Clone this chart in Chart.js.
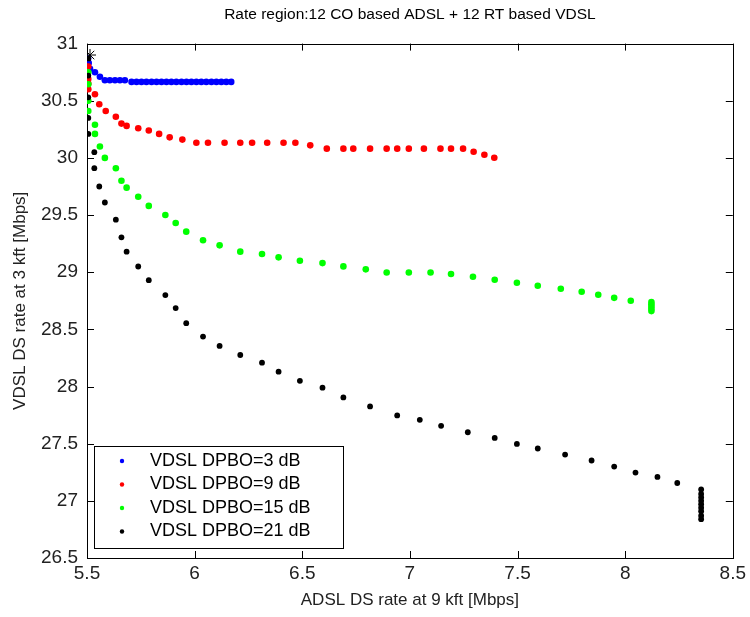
<!DOCTYPE html>
<html>
<head>
<meta charset="utf-8">
<title>Rate region</title>
<script src="https://cdn.jsdelivr.net/npm/chart.js@4.4.1/dist/chart.umd.min.js"></script>
<style>
    html, body { margin: 0; padding: 0; background: #fff; }
    #wrap { width: 750px; height: 617px; }
</style>
</head>
<body>
<div id="wrap"><canvas id="rateChart" width="750" height="617"></canvas></div>
<script>
// Series
const seriesLabels = ['VDSL DPBO=3 dB', 'VDSL DPBO=9 dB', 'VDSL DPBO=15 dB', 'VDSL DPBO=21 dB'];

const dpbo3X = [5.505, 5.508, 5.514, 5.537, 5.56, 5.583, 5.606, 5.63, 5.653, 5.676,
    5.707, 5.730, 5.753, 5.776, 5.800, 5.823, 5.846, 5.869, 5.892, 5.915, 5.939,
    5.962, 5.985, 6.008, 6.031, 6.054, 6.078, 6.101, 6.124, 6.147, 6.170];
const dpbo3Y = [30.87, 30.83, 30.78, 30.75, 30.71, 30.68, 30.68, 30.68, 30.68, 30.68,
    30.665, 30.665, 30.665, 30.665, 30.665, 30.665, 30.665, 30.665, 30.665, 30.665, 30.665,
    30.665, 30.665, 30.665, 30.665, 30.665, 30.665, 30.665, 30.665, 30.665, 30.665];

const dpbo9X = [5.506, 5.506, 5.506, 5.506, 5.537, 5.557, 5.587, 5.634, 5.66, 5.684,
    5.738, 5.787, 5.835, 5.884, 5.943, 6.008, 6.062, 6.139, 6.212, 6.267, 6.337, 6.413,
    6.468, 6.537, 6.614, 6.691, 6.737, 6.815, 6.892, 6.941, 6.995, 7.065, 7.142, 7.191,
    7.247, 7.296, 7.346, 7.392];
const dpbo9Y = [30.80, 30.69, 30.65, 30.60, 30.557, 30.47, 30.41, 30.36, 30.30, 30.28,
    30.26, 30.24, 30.21, 30.18, 30.16, 30.133, 30.133, 30.133, 30.133, 30.133, 30.133, 30.133,
    30.133, 30.11, 30.081, 30.081, 30.081, 30.081, 30.081, 30.081, 30.081, 30.081, 30.081, 30.081,
    30.081, 30.054, 30.028, 30.002];

const dpbo15X = [5.506, 5.506, 5.506, 5.506, 5.537, 5.537, 5.56, 5.583, 5.634, 5.66,
    5.684, 5.738, 5.787, 5.864, 5.912, 5.961, 6.039, 6.116, 6.212, 6.313, 6.39, 6.489,
    6.594, 6.691, 6.795, 6.892, 6.995, 7.096, 7.191, 7.293, 7.394, 7.497, 7.594, 7.701,
    7.798, 7.875, 7.949, 8.026, 8.122, 8.122, 8.122, 8.122, 8.122];
const dpbo15Y = [30.75, 30.645, 30.5, 30.41, 30.29, 30.21, 30.10, 30.0, 29.91, 29.80,
    29.74, 29.66, 29.58, 29.50, 29.43, 29.355, 29.28, 29.235, 29.18, 29.16, 29.13, 29.10,
    29.08, 29.051, 29.025, 28.998, 28.998, 28.998, 28.984, 28.961, 28.934, 28.908, 28.882, 28.855,
    28.829, 28.803, 28.776, 28.75, 28.74, 28.72, 28.70, 28.68, 28.66];

const dpbo21X = [5.506, 5.506, 5.506, 5.506, 5.506, 5.534, 5.534, 5.557, 5.583, 5.634,
    5.66, 5.684, 5.738, 5.787, 5.864, 5.912, 5.961, 6.039, 6.116, 6.212, 6.313, 6.39,
    6.489, 6.594, 6.691, 6.815, 6.941, 7.046, 7.145, 7.269, 7.394, 7.497, 7.594, 7.721,
    7.844, 7.949, 8.048, 8.15, 8.242, 8.353, 8.353, 8.353, 8.353, 8.353, 8.353, 8.353,
    8.353, 8.353];
const dpbo21Y = [30.87, 30.72, 30.53, 30.35, 30.21, 30.05, 29.91, 29.75, 29.61, 29.46,
    29.305, 29.18, 29.05, 28.93, 28.80, 28.686, 28.554, 28.437, 28.355, 28.276, 28.209, 28.13,
    28.05, 27.99, 27.905, 27.826, 27.747, 27.709, 27.656, 27.60, 27.55, 27.498, 27.458, 27.405,
    27.353, 27.30, 27.247, 27.209, 27.156, 27.10, 27.06, 27.03, 27.0, 26.97, 26.94, 26.91,
    26.87, 26.84];

// the single star marker at the common starting point
const startX = [5.514];
const startY = [30.9];

const xTicks = [5.5, 6, 6.5, 7, 7.5, 8, 8.5];
const yTicks = [26.5, 27, 27.5, 28, 28.5, 29, 29.5, 30, 30.5, 31];

const seriesColors = ['#0000ff', '#ff0000', '#00ff00', '#000000'];
const FONT = "'Liberation Sans', Arial, sans-serif";

const toPoints = (xs, ys) => xs.map((x, i) => ({ x, y: ys[i] }));

// MATLAB-style box with inward tick marks on all four sides
const boxPlugin = {
    id: 'matlabBox',
    beforeDatasetsDraw(chart) {
        const { ctx, chartArea: a, scales } = chart;
        const len = 7;
        ctx.save();
        ctx.strokeStyle = '#000';
        ctx.lineWidth = 1;
        ctx.beginPath();
        xTicks.forEach(v => {
            const px = Math.round(scales.x.getPixelForValue(v)) + 0.5;
            ctx.moveTo(px, a.bottom); ctx.lineTo(px, a.bottom - len);
            ctx.moveTo(px, a.top); ctx.lineTo(px, a.top + len);
        });
        yTicks.forEach(v => {
            const py = Math.round(scales.y.getPixelForValue(v)) + 0.5;
            ctx.moveTo(a.left, py); ctx.lineTo(a.left + len, py);
            ctx.moveTo(a.right, py); ctx.lineTo(a.right - len, py);
        });
        ctx.stroke();
        ctx.strokeRect(Math.round(a.left) + 0.5, Math.round(a.top) + 0.5,
            Math.round(a.right - a.left), Math.round(a.bottom - a.top));
        ctx.restore();
    }
};

// legend box in the lower left corner of the plot
const legendPlugin = {
    id: 'boxLegend',
    afterDatasetsDraw(chart) {
        const { ctx } = chart;
        const box = { left: 94, top: 446, width: 249, height: 102 };
        ctx.save();
        ctx.fillStyle = '#fff';
        ctx.fillRect(box.left, box.top, box.width, box.height);
        ctx.strokeStyle = '#000';
        ctx.lineWidth = 1;
        ctx.strokeRect(box.left + 0.5, box.top + 0.5, box.width, box.height);
        ctx.font = `18px ${FONT}`;
        ctx.textBaseline = 'middle';
        seriesLabels.forEach((label, i) => {
            const y = 461 + i * 23.5;
            ctx.fillStyle = seriesColors[i];
            ctx.beginPath();
            ctx.arc(122, y, 2.2, 0, Math.PI * 2);
            ctx.fill();
            ctx.fillStyle = '#000';
            ctx.fillText(label, 150, y);
        });
        ctx.restore();
    }
};

const seriesData = [
    toPoints(dpbo3X, dpbo3Y),
    toPoints(dpbo9X, dpbo9Y),
    toPoints(dpbo15X, dpbo15Y),
    toPoints(dpbo21X, dpbo21Y)
];

const datasets = seriesData.map((data, i) => ({
    label: seriesLabels[i],
    data,
    showLine: false,
    pointRadius: i === 3 ? 2.9 : 3.3,
    pointBackgroundColor: seriesColors[i],
    pointBorderColor: seriesColors[i],
    pointBorderWidth: 0,
    order: 4 - i
}));

datasets.push({
    label: 'start',
    data: toPoints(startX, startY),
    showLine: false,
    pointStyle: 'star',
    pointRadius: 6,
    pointBorderColor: '#000',
    pointBorderWidth: 1,
    order: 0
});

new Chart(document.getElementById('rateChart'), {
    type: 'scatter',
    data: { datasets },
    options: {
        responsive: false,
        animation: false,
        devicePixelRatio: 1,
        layout: { padding: { top: 0, right: 14, bottom: 0, left: 0 } },
        plugins: {
            legend: { display: false },
            tooltip: { enabled: false },
            title: {
                display: true,
                text: 'Rate region:12 CO based ADSL + 12 RT based VDSL',
                fullSize: false,
                color: '#000',
                font: { family: FONT, size: 15.5, weight: 'normal' },
                padding: { top: 5, bottom: 20 }
            }
        },
        scales: {
            x: {
                type: 'linear',
                min: 5.5,
                max: 8.5,
                afterBuildTicks: s => { s.ticks = xTicks.map(v => ({ value: v })); },
                afterFit: s => { s.height = 59; },
                grid: { display: false, drawTicks: false, tickLength: 0 },
                border: { display: false },
                ticks: {
                    color: '#222',
                    padding: 4,
                    maxRotation: 0,
                    font: { family: FONT, size: 19 },
                    callback: v => String(v)
                },
                title: {
                    display: true,
                    text: 'ADSL DS rate at 9 kft [Mbps]',
                    color: '#222',
                    font: { family: FONT, size: 17 },
                    padding: { top: 0, bottom: 6 }
                }
            },
            y: {
                type: 'linear',
                min: 26.5,
                max: 31,
                afterBuildTicks: s => { s.ticks = yTicks.map(v => ({ value: v })); },
                afterFit: s => { s.width = 87; },
                grid: { display: false, drawTicks: false, tickLength: 0 },
                border: { display: false },
                ticks: {
                    color: '#222',
                    padding: 9,
                    font: { family: FONT, size: 19 },
                    callback: v => String(v)
                },
                title: {
                    display: true,
                    text: 'VDSL DS rate at 3 kft [Mbps]',
                    color: '#222',
                    font: { family: FONT, size: 17 },
                    padding: { top: 10, bottom: 0 }
                }
            }
        }
    },
    plugins: [boxPlugin, legendPlugin]
});
</script>
</body>
</html>
